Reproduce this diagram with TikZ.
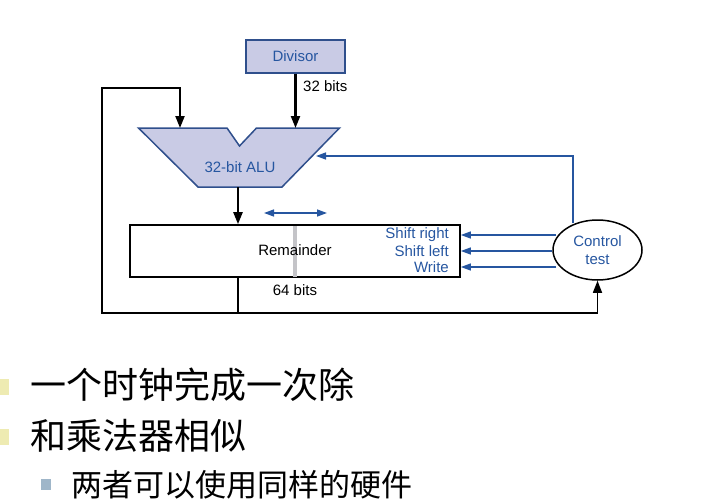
\documentclass[tikz,border=0pt]{standalone}
\usepackage{fontspec}
\setmainfont{Liberation Sans}
\newfontfamily\cjk{Noto Sans CJK SC}
\usetikzlibrary{arrows.meta,shapes.geometric}
\definecolor{ctrlblue}{HTML}{2656A0}
\definecolor{boxfill}{HTML}{C9CBE5}
\definecolor{boxedge}{HTML}{2F4F8C}
\definecolor{barGray}{HTML}{C4C4C8}
\definecolor{bulletYellow}{HTML}{EEEBB2}
\definecolor{bulletBlue}{HTML}{9FB6C9}
\tikzset{
  lbl/.style={font=\fontsize{15}{17}\selectfont, inner sep=0pt},
  bluelbl/.style={lbl, text=ctrlblue},
  datawire/.style={line width=2.2pt, black},
  thinwire/.style={line width=1.4pt, black},
  ctrlwire/.style={line width=1.4pt, ctrlblue},
  dataarrow/.style={-{Triangle[length=12pt,width=9pt]}},
  ctrlarrow/.style={-{Triangle[length=10pt,width=7pt]}},
  bullettext/.style={font=\cjk\fontsize{36}{40}\selectfont, anchor=west, inner sep=0pt},
  subbullettext/.style={font=\cjk\fontsize{31}{36}\selectfont, anchor=west, inner sep=0pt},
}
\begin{document}
\begin{tikzpicture}[x=1pt,y=-1pt]
\useasboundingbox (0,0) rectangle (710,503);

% divisor register
\node[draw=boxedge, fill=boxfill, line width=1.5pt, minimum width=99pt, minimum height=33pt,
      inner sep=0pt, text=ctrlblue, font=\fontsize{15}{17}\selectfont] (divisor) at (295.5,56.5) {Divisor};

% ALU outline with the input notch
\path[draw=boxedge, fill=boxfill, line width=1.5pt]
  (138.5,128) coordinate (aluTL) -- (227,128) -- (239.5,146) -- (256.5,128)
  -- (339.5,128) coordinate (aluTR) -- (282,187) coordinate (aluBR)
  -- (198,187) coordinate (aluBL) -- cycle;
\node[bluelbl] (alulabel) at (240,167) {32-bit ALU};
\coordinate (aluInL) at (180,128);
\coordinate (aluOut) at (238,187);
\coordinate (aluCtrl) at (316,156);

% remainder register
\node[draw, line width=1.6pt, minimum width=330pt, minimum height=52pt, inner sep=0pt] (rem) at (295,251) {};
\fill[barGray] (292.5,226) rectangle (296.5,276.5);
\node[lbl] (remlabel) at (295,250) {Remainder};
\node[lbl] (bits64) at (295,290) {64 bits};
\node[bluelbl, anchor=east] (shr) at (449,235) {Shift right};
\node[bluelbl, anchor=east] (shl) at (449,251) {Shift left};
\node[bluelbl, anchor=east] (wr) at (449,267) {Write};

% shift direction marker
\coordinate (shA) at (264,213);
\coordinate (shB) at (327,213);
\draw[ctrlwire, {Triangle[length=10pt,width=7pt]}-{Triangle[length=10pt,width=7pt]}] (shA) -- (shB);

% control unit
\node[draw, ellipse, line width=1.5pt, minimum width=89pt, minimum height=60pt, inner sep=0pt,
      align=center, text=ctrlblue, font=\fontsize{15}{18}\selectfont] (ctrl) at (597.5,250) {Control\\test};

% data paths
\draw[datawire, dataarrow] (divisor.south) -- (divisor.south |- aluTL);
\node[lbl, anchor=west] (bits32) at (303,86) {32 bits};
\draw[datawire, dataarrow] (aluOut) -- (rem.north -| aluOut);
\coordinate (loopBL) at (102,313);
\coordinate (loopTL) at (102,88);
\coordinate (remOut) at (238,313);
\draw[datawire, dataarrow] (rem.south -| aluOut) -- (remOut) -- (loopBL) -- (loopTL) -- (loopTL -| aluInL) -- (aluInL);
\draw[thinwire, dataarrow] (remOut) -- (remOut -| ctrl.south) -- (ctrl.south);

% control signals
\draw[ctrlwire, ctrlarrow] (ctrl.west |- shr) ++(4,0) -- (rem.east |- shr);
\draw[ctrlwire, ctrlarrow] (ctrl.west |- shl) -- (rem.east |- shl);
\draw[ctrlwire, ctrlarrow] (ctrl.west |- wr) ++(4,0) -- (rem.east |- wr);
\coordinate (ctrlUp) at (573,156);
\draw[ctrlwire, ctrlarrow] (ctrl.north -| ctrlUp) ++(0,4) -- (ctrlUp) -- (aluCtrl);

% bullet list
\fill[bulletYellow] (-2,379) rectangle (9,395);
\node[bullettext] (line1) at (30,385) {一个时钟完成一次除};
\fill[bulletYellow] (-2,429) rectangle (9,445);
\node[bullettext] (line2) at (30,435.5) {和乘法器相似};
\fill[bulletBlue] (41,479) rectangle (51,490);
\node[subbullettext] (line3) at (71,485) {两者可以使用同样的硬件};
\end{tikzpicture}
\end{document}
